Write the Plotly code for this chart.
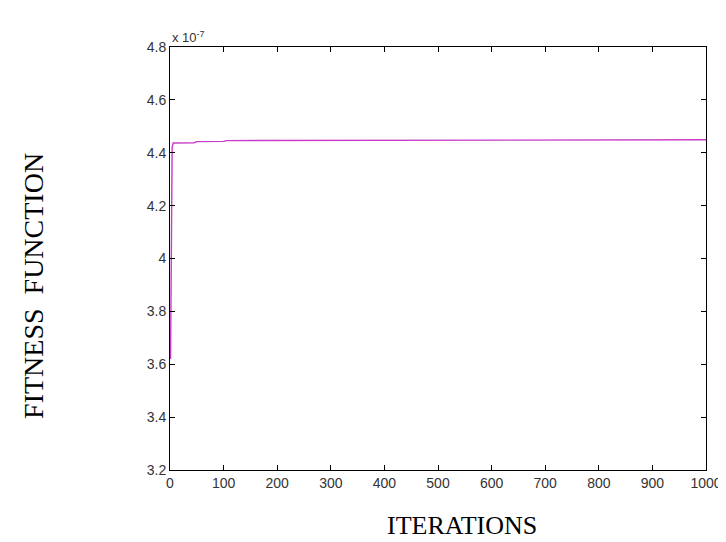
import plotly.graph_objects as go

# Data (fitness values in units of 1e-7)
iterations = [1, 4, 6, 45, 50, 100, 105, 370, 380, 1000]
fitness = [3.62, 4.42, 4.437, 4.438, 4.442, 4.443, 4.446, 4.447, 4.449, 4.449]

x_ticks = [0, 100, 200, 300, 400, 500, 600, 700, 800, 900, 1000]
y_ticks = [3.2, 3.4, 3.6, 3.8, 4.0, 4.2, 4.4, 4.6, 4.8]
y_ticktext = ["3.2", "3.4", "3.6", "3.8", "4", "4.2", "4.4", "4.6", "4.8"]

fig = go.Figure()
fig.add_trace(go.Scatter(
    x=iterations, y=fitness, mode="lines",
    line=dict(color="#c83cc8", width=1.4),
    showlegend=False,
))

tickfont = dict(family="Liberation Sans, Arial, sans-serif", size=14, color="#333333")

fig.update_layout(
    width=726, height=542,
    margin=dict(l=162, r=20, t=39, b=80),
    paper_bgcolor="white", plot_bgcolor="white",
    xaxis=dict(
        range=[0, 1000], tickvals=x_ticks, ticks="inside", ticklen=5,
        tickcolor="black", showline=True, linecolor="black", linewidth=1,
        mirror="ticks", showgrid=False, zeroline=False, tickfont=tickfont,
    ),
    yaxis=dict(
        range=[3.2, 4.8], tickvals=y_ticks, ticktext=y_ticktext, ticks="inside",
        ticklen=5, tickcolor="black", showline=True, linecolor="black", linewidth=1,
        mirror="ticks", showgrid=False, zeroline=False, tickfont=tickfont,
    ),
    annotations=[
        dict(text="x 10<sup>-7</sup>", xref="paper", yref="paper", x=0.0, y=1.0,
             xanchor="left", yanchor="bottom", showarrow=False,
             font=dict(family="Liberation Sans, Arial, sans-serif", size=13, color="#333333")),
        dict(text="ITERATIONS", xref="paper", yref="paper", x=0.544, y=-0.132,
             xanchor="center", yanchor="middle", showarrow=False,
             font=dict(family="Liberation Serif, Times New Roman, serif", size=26, color="black")),
        dict(text="FITNESS&nbsp; FUNCTION", xref="paper", yref="paper", x=-0.255, y=0.436,
             xanchor="center", yanchor="middle", textangle=-90, showarrow=False,
             font=dict(family="Liberation Serif, Times New Roman, serif", size=28, color="black")),
    ],
)

fig.write_html("out.html")
